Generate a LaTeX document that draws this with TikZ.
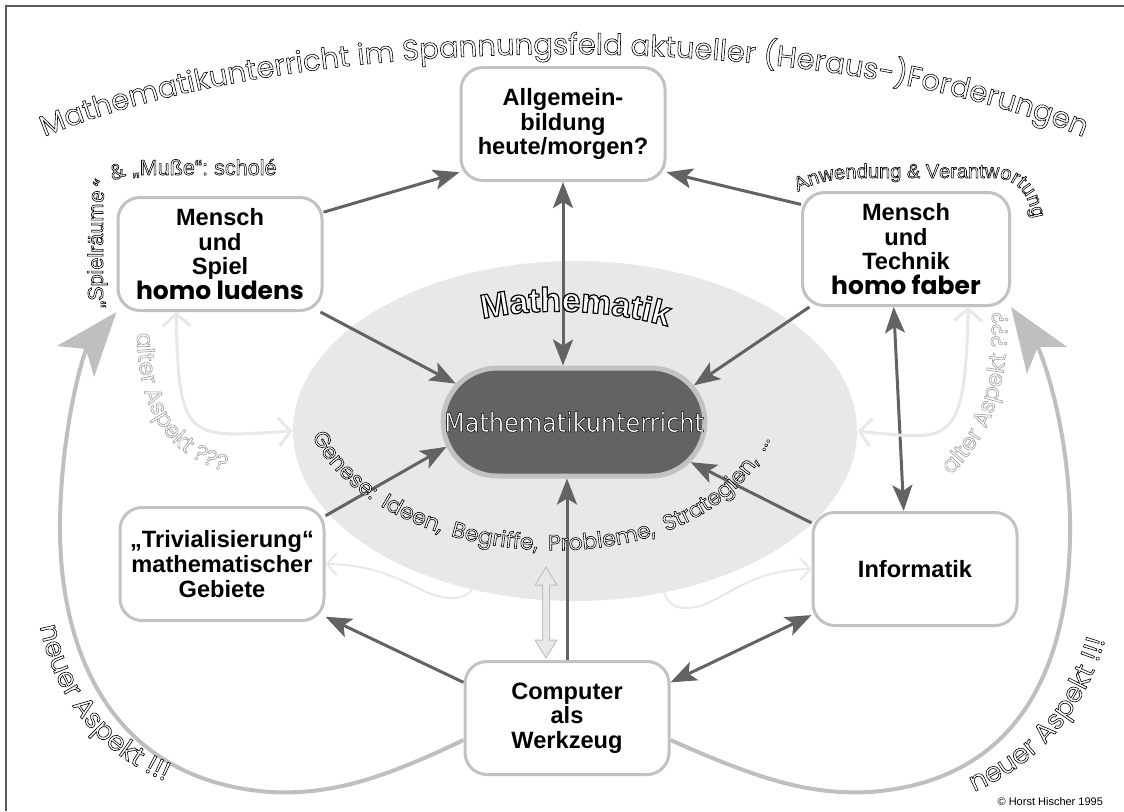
\documentclass[tikz,border=0pt]{standalone}
\usepackage{fontspec}
\setmainfont{Liberation Sans}
\newfontfamily\avfont{Poppins}
\newfontfamily\condfont{DejaVu Sans Condensed}
\usetikzlibrary{arrows.meta,shapes.geometric,shapes.misc,decorations.text}
\definecolor{arrowgray}{gray}{0.39}
\definecolor{boxgray}{gray}{0.76}
\definecolor{palegray}{gray}{0.91}
\definecolor{ringgray}{gray}{0.75}
\definecolor{framegray}{gray}{0.35}
% outlined letters: fill white, stroke black or gray
\newcommand\outlk{\special{pdf:literal direct 2 Tr 0.3 w 0 G}}
\newcommand\outlkk{\special{pdf:literal direct 2 Tr 0.6 w 0 G}}
\newcommand\outlg{\special{pdf:literal direct 2 Tr 0.3 w 0.62 G}}
\newcommand\outloff{\special{pdf:literal direct 0 Tr}}

\begin{document}
\begin{tikzpicture}[x=0.5pt,y=-0.5pt]
        \tikzstyle{box} = [draw=boxgray,line width=1.5pt,fill=white,rounded corners=11pt,minimum width=102pt,minimum height=56.5pt,inner sep=0pt,align=center,font=\fontsize{11.8}{12.3}\selectfont\bfseries]
        \tikzstyle{arr} = [draw=arrowgray,line width=1.5pt,-{Stealth[length=13pt,width=10pt,inset=3pt]}]
        \tikzstyle{arrboth} = [draw=arrowgray,line width=1.5pt,{Stealth[length=13pt,width=10pt,inset=3pt]}-{Stealth[length=13pt,width=10pt,inset=3pt]}]
        \tikzstyle{bigarr} = [draw=ringgray,line width=2pt,-{Stealth[length=32pt,width=24pt,inset=8pt]}]
        \tikzstyle{pale} = [draw=palegray,line width=1.5pt,{Straight Barb[length=6pt,width=14pt]}-{Straight Barb[length=6pt,width=14pt]}]
        \tikzstyle{palethin} = [draw=palegray,line width=1pt,{Straight Barb[length=5pt,width=11pt]}-{Straight Barb[length=5pt,width=11pt]}]
        \tikzstyle{curvetext} = [decorate,decoration={text along path,text color=white,text align=center}]
        \fill[white] (0,0) rectangle (1124,811);
        \useasboundingbox (0,0) rectangle (1124,811);
        \draw[framegray,line width=0.7pt] (6,811) -- (6,6) -- (1124,6);

        % centre
        \path (575,431) node(ell)[ellipse,fill=palegray,minimum width=282pt,minimum height=170pt,inner sep=0pt]{};
        \path (574,422) node(mu)[rounded rectangle,fill=arrowgray,draw=boxgray,line width=2.5pt,minimum width=137.5pt,minimum height=54pt,text=white,font=\condfont\fontsize{13.3}{15}\selectfont]{\special{pdf:literal direct 2 Tr 0.25 w 0 G}Mathematikunterricht\outloff};

        % boxes
        \path (563,124) node(allg)[box]{Allgemein-\\bildung\\heute/morgen?};
        \path (220,254) node(spiel)[box]{Mensch\\und\\Spiel\\{\avfont\fontsize{12.5}{14}\selectfont homo ludens}};
        \path (906,249) node(tech)[box,minimum width=103.5pt]{Mensch\\und\\Technik\\{\avfont\fontsize{12.5}{14}\selectfont homo faber}};
        \path (222,564) node(triv)[box]{„Trivialisierung“\\mathematischer\\Gebiete};
        \path (915,569) node(inf)[box]{Informatik};
        \path (567,718) node(comp)[box]{Computer\\als\\Werkzeug};

        % connectors
        \path[arr] (spiel.22) -- (allg.205);
        \path[arr] (tech.157) -- (allg.335);
        \path[arrboth] (allg.south) -- (allg.south |- mu.north);
        \path[arr] (spiel.-30) -- (mu.162);
        \path[arr] (tech.211) -- (mu.17);
        \path[arrboth] (tech.258) -- (inf.101);
        \path[arr] (triv.25) -- (mu.191);
        \path[arr] (inf.156) -- (mu.341);
        \path[arr] (comp.north) -- (comp.north |- mu.south);
        \path[arr] (comp.161) -- (triv.-27);
        \path[arrboth] (comp.19) -- (inf.204);

        \path[bigarr] (comp.192) .. controls (380,780) and (330,795) .. (270,792) .. controls (110,780) and (58,650) .. (60,520) .. controls (62,420) and (85,350) .. (spiel.south west);
        \path[bigarr] (comp.-12) .. controls (760,780) and (810,795) .. (870,792) .. controls (1030,780) and (1072,650) .. (1070,520) .. controls (1068,420) and (1040,350) .. (tech.south east);

        \path[pale] (spiel.233) .. controls (178,445) and (190,437) .. (ell.west);
        \path[pale] (tech.-43) .. controls (965,450) and (950,440) .. (ell.east);
        \coordinate (trivend) at (478,558);
        \coordinate (infend) at (661,566);
        \path[palethin] (triv.east) .. controls (400,565) and (420,600) .. (455,598) .. controls (475,596) and (478,580) .. (trivend);
        \path[palethin] (inf.west) .. controls (740,570) and (720,608) .. (686,608) .. controls (665,608) and (661,590) .. (infend);
        \path[draw=boxgray,fill=palegray,line width=0.5pt] (546,567) -- (557,585) -- (549.5,585) -- (549.5,640) -- (557,640) -- (546,658) -- (535,640) -- (542.5,640) -- (542.5,585) -- (535,585) -- cycle;

        % texts along paths
        \path[curvetext,decoration={text={|\fontsize{17}{17}\selectfont\bfseries\outlkk|Mathematik}}]
          (470,322) .. controls (530,306) and (610,308) .. (680,330);
        \path[curvetext,decoration={text={|\avfont\fontsize{14.5}{14.5}\selectfont\outlk|Mathematikunterricht im Spannungsfeld aktueller (Heraus-)Forderungen}}]
          (32,142) .. controls (300,25) and (830,25) .. (1095,142);
        \path[curvetext,decoration={text align=left,text={|\fontsize{10.8}{10.8}\selectfont\outlk|„Spielräume“ {\&} „Muße“: scholé}}]
          (103,308) -- (103,205) .. controls (103,185) and (115,175) .. (140,175) -- (330,175);
        \path[curvetext,decoration={text align=left,text={|\fontsize{10}{10}\selectfont\outlk|Anwendung {\&} Verantwortung}}]
          (798,192) .. controls (818,180) and (840,178) .. (870,178) -- (990,178) .. controls (1020,178) and (1035,195) .. (1035,250);
        \path[curvetext,decoration={text align=left,text={|\avfont\fontsize{11.5}{11.5}\selectfont\outlg|alter Aspekt ???}}]
          (137,333) .. controls (137,420) and (175,470) .. (260,478);
        \path[curvetext,decoration={text align=right,text={|\avfont\fontsize{11.5}{11.5}\selectfont\outlg|alter Aspekt ???}}]
          (925,495) .. controls (985,455) and (1008,400) .. (1008,312);
        \path[curvetext,decoration={text={|\avfont\fontsize{13.5}{13.5}\selectfont\outlk|neuer Aspekt !!!}}]
          (36,595) .. controls (42,690) and (100,765) .. (195,792);
        \path[curvetext,decoration={text={|\avfont\fontsize{13.5}{13.5}\selectfont\outlk|neuer Aspekt !!!}}]
          (945,802) .. controls (1040,775) and (1097,700) .. (1112,610);
        \path[curvetext,decoration={text align=fit to path stretching spaces,text={|\avfont\fontsize{11}{11}\selectfont\outlk|Genese: Ideen, Begriffe, Probleme, Strategien, ...}}]
          (312,436) .. controls (380,575) and (700,600) .. (770,440);

        \path (1110,802) node(copy)[anchor=east,font=\fontsize{5.5}{6}\selectfont]{© Horst Hischer 1995};
      \end{tikzpicture}
\end{document}
